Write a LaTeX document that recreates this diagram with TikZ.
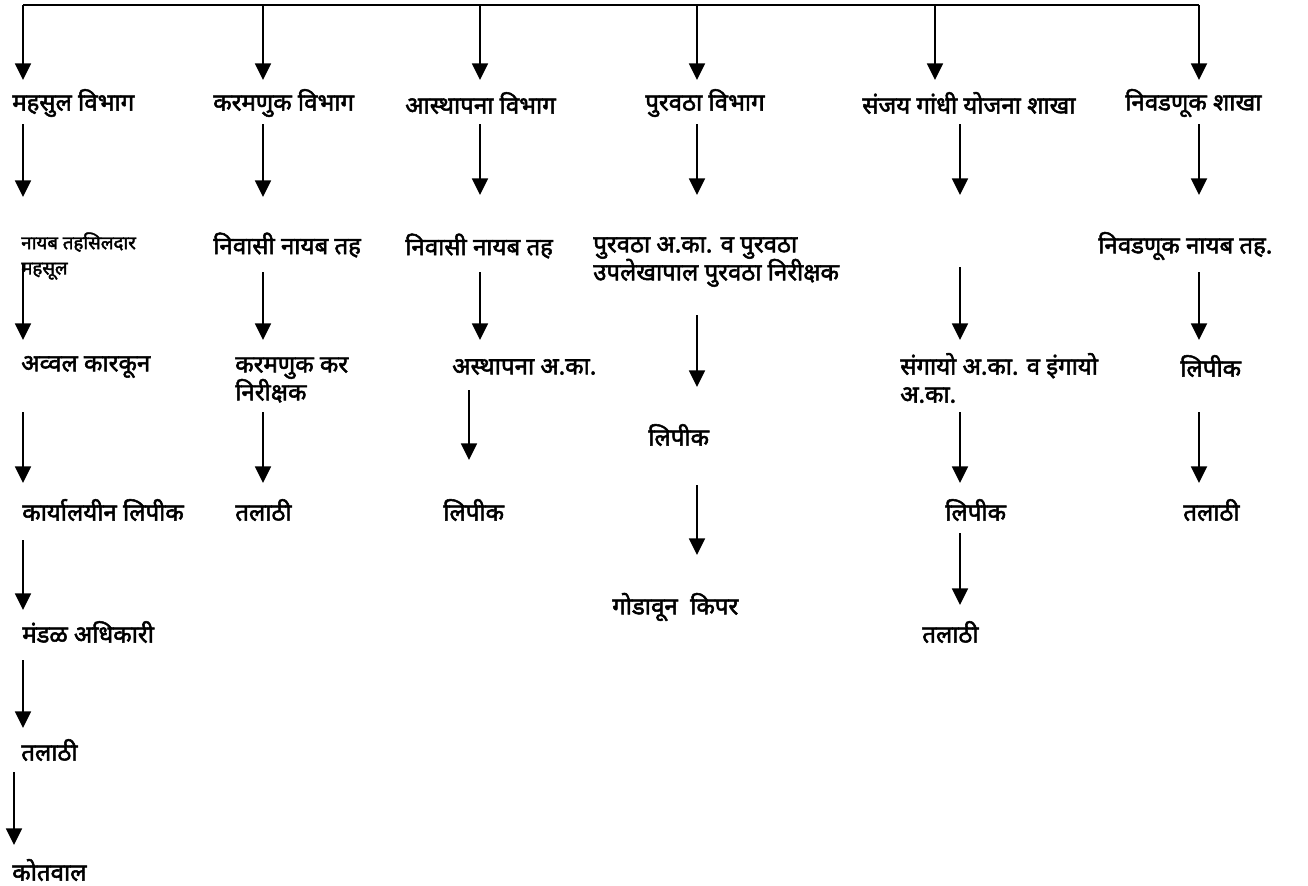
\documentclass[tikz,border=0pt]{standalone}
\usepackage{fontspec}
\newfontfamily\dev[Script=Devanagari,FakeBold=2.2]{Noto Sans}
\usetikzlibrary{arrows.meta}
\begin{document}
\begin{tikzpicture}[x=0.75pt,y=-0.75pt,
  lbl/.style={anchor=west,inner sep=0pt,font=\dev\fontsize{18}{21}\selectfont,align=left},
  small/.style={anchor=west,inner sep=0pt,font=\dev\fontsize{14}{19}\selectfont,align=left},
  arr/.style={-{Triangle[width=12pt,length=12.5pt]},line width=1.3pt}]
\useasboundingbox (0,0) rectangle (1308,885);
% top bus
\coordinate (b1) at (23,5);
\coordinate (b6) at (1199,5);
\draw[line width=1.3pt] (b1) -- (b6);
% heads row
\node[lbl] (h1) at (12,103) {महसुल विभाग};
\node[lbl] (h2) at (213,103) {करमणुक विभाग};
\node[lbl] (h3) at (405,103) {आस्थापना विभाग};
\node[lbl] (h4) at (645,103) {पुरवठा विभाग};
\node[lbl] (h5) at (862,103) {संजय गांधी योजना शाखा};
\node[lbl] (h6) at (1125,103) {निवडणूक शाखा};
\foreach \x in {23,263,480,697,935,1199}
  \draw[arr] (\x,5) -- (\x,80);
% column 1
\node[small] (a2) at (21,256) {नायब तहसिलदार\\महसूल};
\node[lbl] (a3) at (21,367) {अव्वल कारकून};
\node[lbl] (a4) at (22,510) {कार्यालयीन लिपीक};
\node[lbl] (a5) at (22,632) {मंडळ अधिकारी};
\node[lbl] (a6) at (21,750) {तलाठी};
\node[lbl] (a7) at (12,870) {कोतवाल};
\draw[arr] (23,124) -- (23,197);
\draw[arr] (23,263) -- (23,340);
\draw[arr] (23,412) -- (23,483);
\draw[arr] (23,540) -- (23,610);
\draw[arr] (23,660) -- (23,728);
\draw[arr] (14,772) -- (14,845);
% column 2
\node[lbl] (c2) at (213,245) {निवासी नायब तह};
\node[lbl] (c3) at (235,380) {करमणुक कर\\निरीक्षक};
\node[lbl] (c4) at (235,510) {तलाठी};
\draw[arr] (263,124) -- (263,197);
\draw[arr] (263,272) -- (263,340);
\draw[arr] (263,412) -- (263,483);
% column 3
\node[lbl] (d2) at (405,246) {निवासी नायब तह};
\node[lbl] (d3) at (452,367) {अस्थापना अ.का.};
\node[lbl] (d4) at (443,510) {लिपीक};
\draw[arr] (480,124) -- (480,195);
\draw[arr] (480,272) -- (480,340);
\draw[arr] (469,390) -- (469,460);
% column 4
\node[lbl] (e2) at (593,262) {पुरवठा अ.का. व पुरवठा\\उपलेखापाल पुरवठा निरीक्षक};
\node[lbl] (e3) at (648,435) {लिपीक};
\node[lbl] (e4) at (612,607) {गोडावून \ किपर};
\draw[arr] (697,124) -- (697,195);
\draw[arr] (697,315) -- (697,387);
\draw[arr] (697,485) -- (697,555);
% column 5
\node[lbl] (f3) at (900,378) {संगायो अ.का. व इंगायो\\अ.का.};
\node[lbl] (f4) at (945,510) {लिपीक};
\node[lbl] (f5) at (922,632) {तलाठी};
\draw[arr] (960,124) -- (960,195);
\draw[arr] (960,267) -- (960,340);
\draw[arr] (960,412) -- (960,483);
\draw[arr] (960,533) -- (960,605);
% column 6
\node[lbl] (g2) at (1098,246) {निवडणूक नायब तह.};
\node[lbl] (g3) at (1180,366) {लिपीक};
\node[lbl] (g4) at (1183,510) {तलाठी};
\draw[arr] (1199,124) -- (1199,195);
\draw[arr] (1199,272) -- (1199,340);
\draw[arr] (1199,412) -- (1199,483);
\end{tikzpicture}
\end{document}
